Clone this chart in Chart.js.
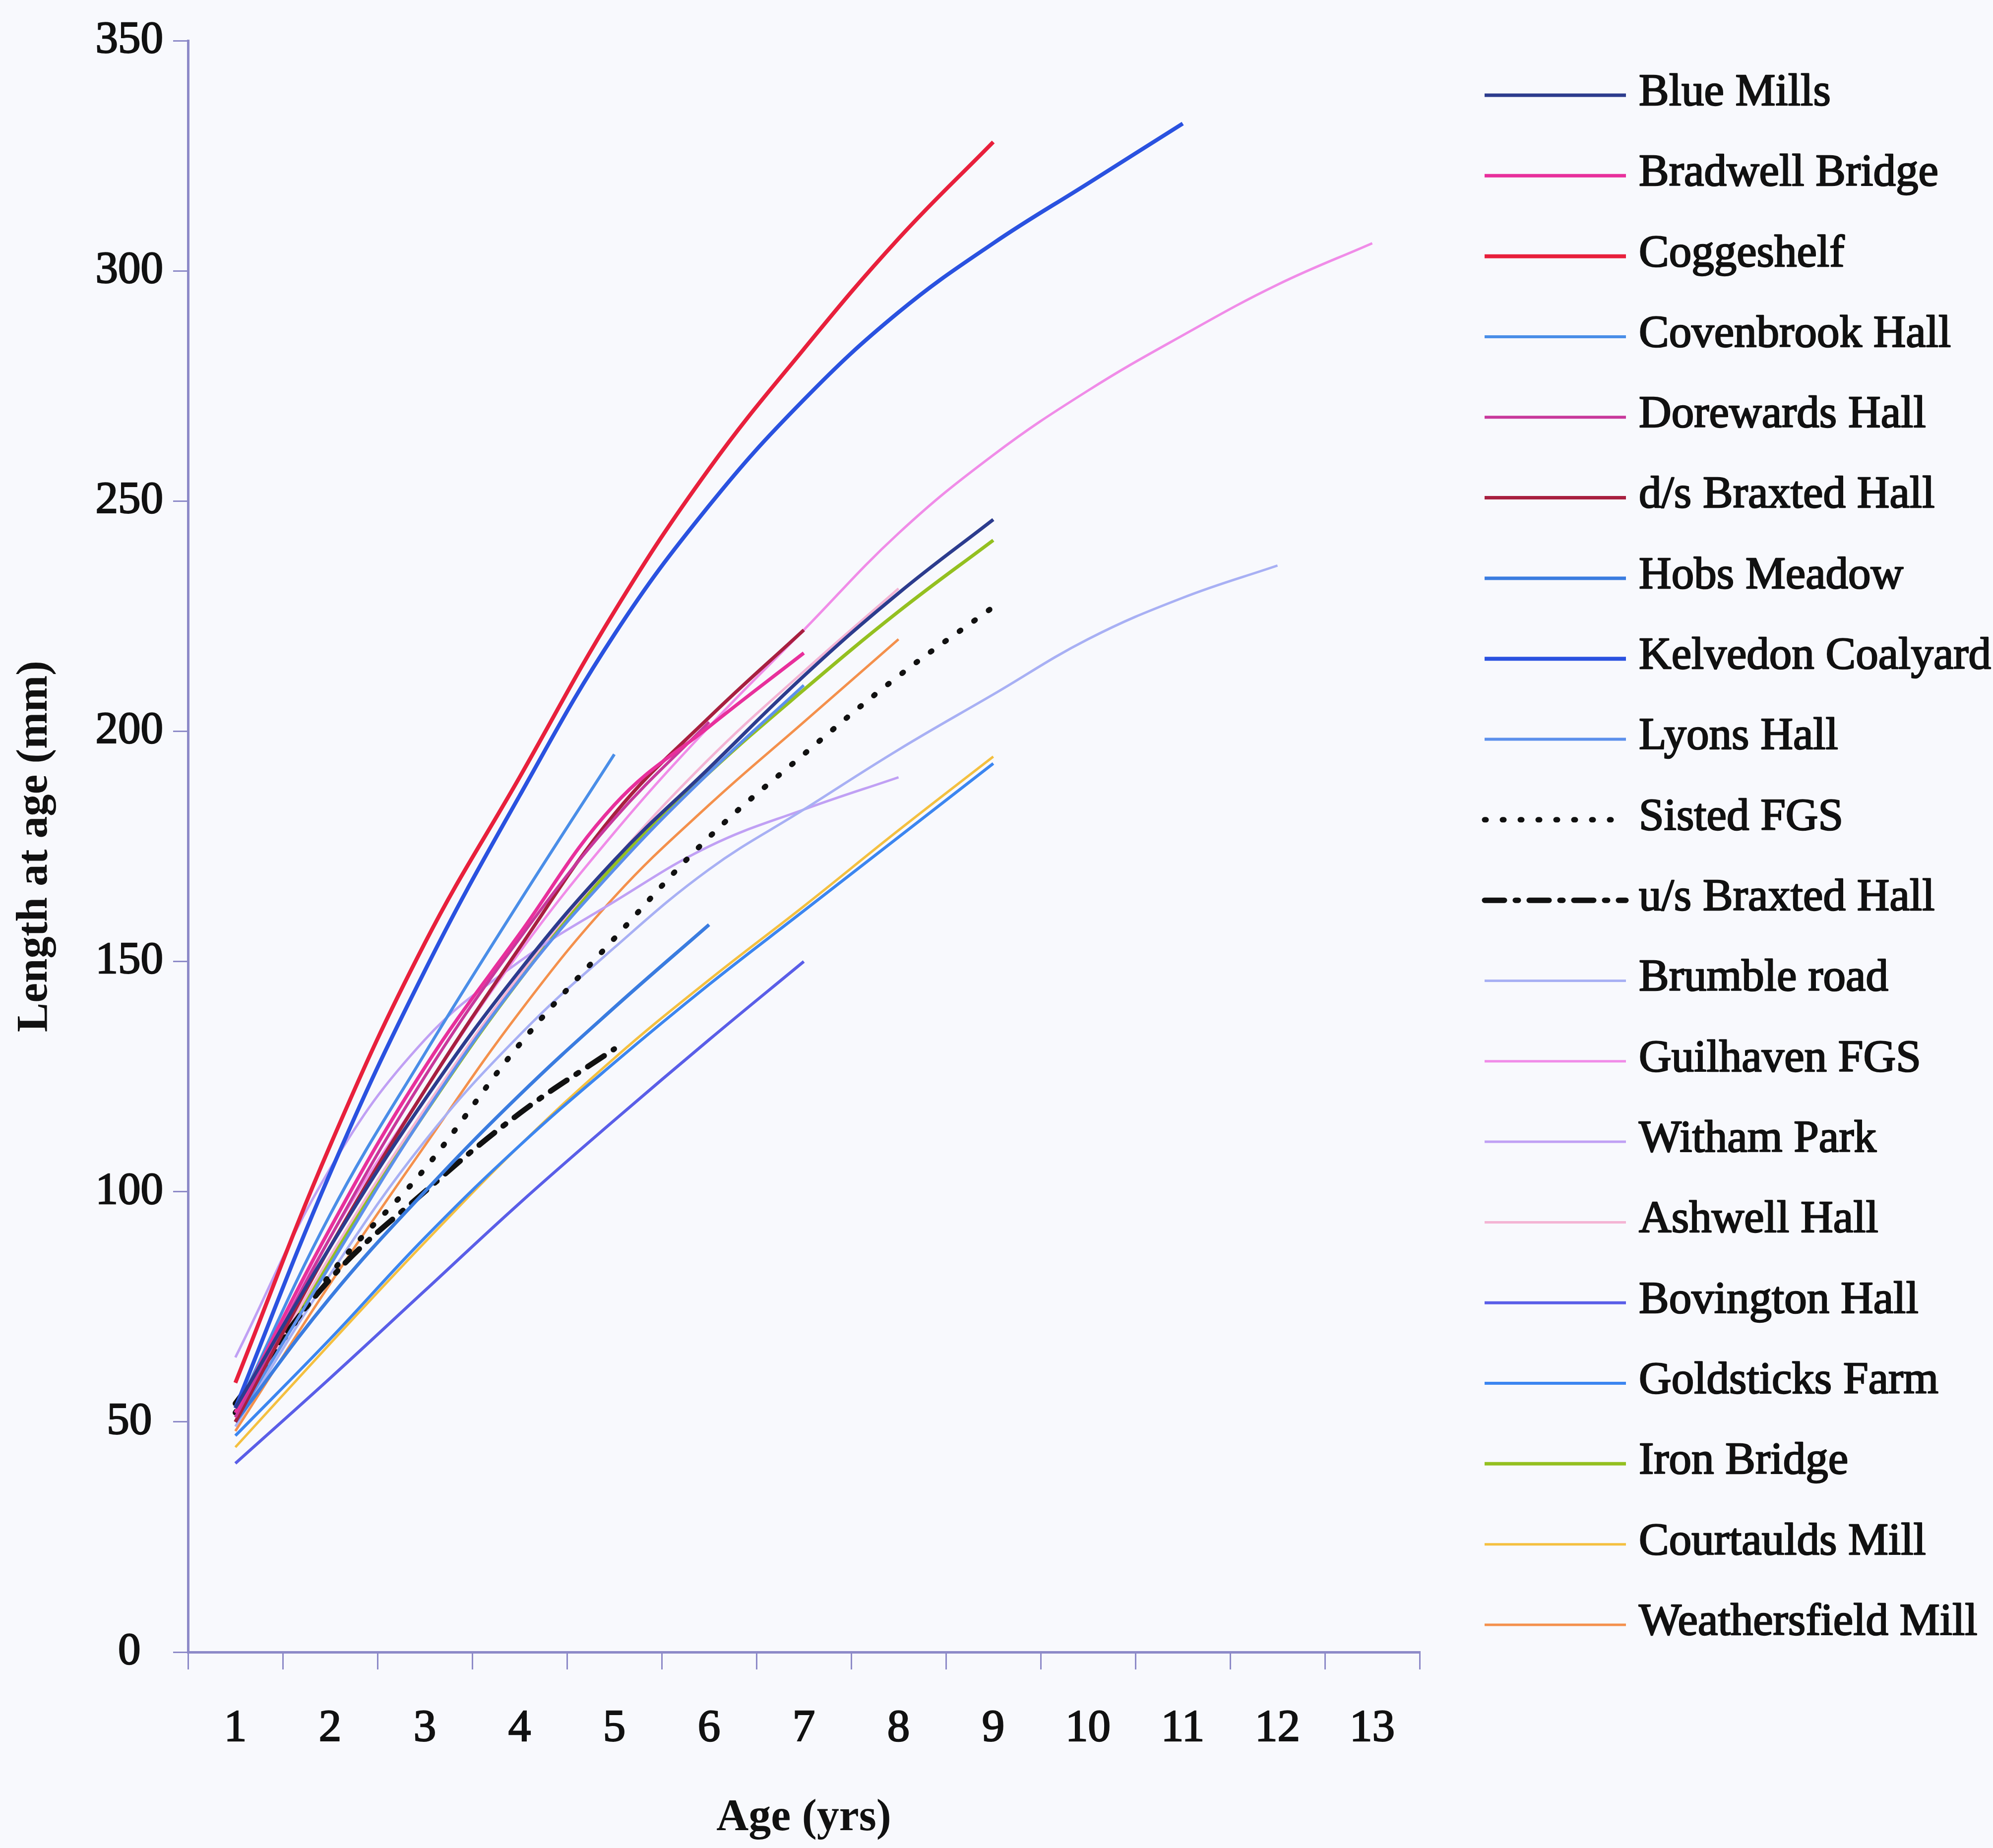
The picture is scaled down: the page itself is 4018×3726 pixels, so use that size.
<!DOCTYPE html>
<html>
<head>
<meta charset="utf-8">
<title>Length at age by site</title>
<script src="https://cdn.jsdelivr.net/npm/chart.js@4.4.1/dist/chart.umd.min.js"></script>
<style>
  html, body { margin: 0; padding: 0; background: #f8f9fd; }
  canvas { display: block; }
</style>
</head>
<body>
<canvas id="growthChart" width="4018" height="3726"></canvas>
<script>
// ages on the x axis and the y tick values
const ages = ['1', '2', '3', '4', '5', '6', '7', '8', '9', '10', '11', '12', '13'];
const lengthTicks = [0, 50, 100, 150, 200, 250, 300, 350];

// back-calculated length at age (mm), one array per site, starting at age 1
const blueMills         = [53, 88, 120, 148, 172, 192, 212, 230, 246];
const bradwellBridge    = [52, 92, 127, 156, 184, 201, 217];
const coggeshelf        = [58.5, 110, 154, 190, 226, 257, 283, 307, 328];
const covenbrookHall    = [52, 95, 130, 163, 195];
const dorewardsHall     = [51, 90, 125, 155, 181, 202];
const dsBraxtedHall     = [50, 88, 122, 153, 182, 203, 222];
const hobsMeadow        = [50, 77, 100, 121, 140, 158];
const kelvedonCoalyard  = [53, 104, 148, 186, 221, 249, 272, 291, 306, 319, 332];
const lyonsHall         = [50, 84, 117, 146, 170, 191, 210];
const sistedFGS         = [52, 82, 105, 132, 155, 177, 195, 212, 227];
const usBraxtedHall     = [54, 81, 100, 117, 131];
const brumbleRoad       = [49, 82, 111, 134, 153, 170, 183, 196, 208, 220, 229, 236];
const guilhavenFGS      = [52, 90, 122, 152, 178, 201, 222, 243, 260, 274, 286, 297, 306];
const withamPark        = [64, 105, 133, 150, 163, 175, 183, 190];
const ashwellHall       = [50, 86, 118, 147, 172, 194, 213, 231];
const bovingtonHall     = [41, 59.5, 78.5, 97.5, 115.5, 133, 150];
const goldsticksFarm    = [47, 68, 90, 110, 128, 145, 161, 177, 193];
const ironBridge        = [50, 85, 117, 146, 171, 191, 209, 226, 241.5];
const courtauldsMill    = [44.5, 67, 89, 110, 129, 146, 162, 178.5, 194.5];
const weathersfieldMill = [48, 80, 110, 139, 164, 184, 202, 220];

const siteNames = [
  'Blue Mills', 'Bradwell Bridge', 'Coggeshelf', 'Covenbrook Hall', 'Dorewards Hall',
  'd/s Braxted Hall', 'Hobs Meadow', 'Kelvedon Coalyard', 'Lyons Hall', 'Sisted FGS',
  'u/s Braxted Hall', 'Brumble road', 'Guilhaven FGS', 'Witham Park', 'Ashwell Hall',
  'Bovington Hall', 'Goldsticks Farm', 'Iron Bridge', 'Courtaulds Mill', 'Weathersfield Mill'
];
const siteValues = [
  blueMills, bradwellBridge, coggeshelf, covenbrookHall, dorewardsHall,
  dsBraxtedHall, hobsMeadow, kelvedonCoalyard, lyonsHall, sistedFGS,
  usBraxtedHall, brumbleRoad, guilhavenFGS, withamPark, ashwellHall,
  bovingtonHall, goldsticksFarm, ironBridge, courtauldsMill, weathersfieldMill
];

// line styling per site
const siteColors = [
  '#2c3c8e', '#e8309c', '#e8203c', '#4a8ee8', '#c8389c',
  '#a82040', '#3a7ce0', '#2a52e0', '#5c90ec', '#111111',
  '#111111', '#a8b0f4', '#f08ce8', '#c0a0f4', '#f4b4d4',
  '#5a5ee8', '#3c86f0', '#94c020', '#f4c040', '#f4904c'
];
const siteWidths = [7, 7, 8, 6, 6, 7, 7, 8, 6, 11, 11, 5, 5, 5, 5, 6, 6, 7, 5, 5];
const siteDashes = { 'Sisted FGS': [3, 33], 'u/s Braxted Hall': [40, 22, 6, 22] };

const FONT = "'Liberation Serif', 'Times New Roman', serif";
const AXIS_COLOR = '#8d8ac8';
const INK = '#111111';

Chart.defaults.font.family = FONT;
Chart.defaults.color = INK;

const datasets = siteNames.map((name, i) => ({
  label: name,
  data: siteValues[i],
  borderColor: siteColors[i],
  backgroundColor: siteColors[i],
  borderWidth: siteWidths[i],
  borderDash: siteDashes[name] || [],
  borderCapStyle: siteDashes[name] ? 'round' : 'butt',
  pointRadius: 0,
  tension: 0.4,
  fill: false
}));

// legend column at the right, one row per site
const sideLegend = {
  id: 'sideLegend',
  afterDraw(chart) {
    const { ctx } = chart;
    const sets = chart.data.datasets;
    const x0 = 2993, x1 = 3278, textX = 3304;
    const firstY = 192, lastY = 3276;
    const step = (lastY - firstY) / (sets.length - 1);
    ctx.save();
    ctx.font = '91px ' + FONT;
    ctx.textBaseline = 'middle';
    sets.forEach((ds, i) => {
      const y = firstY + i * step;
      ctx.beginPath();
      ctx.setLineDash(ds.borderDash);
      ctx.lineCap = ds.borderCapStyle;
      ctx.lineWidth = ds.borderWidth;
      ctx.strokeStyle = ds.borderColor;
      ctx.moveTo(x0, y);
      ctx.lineTo(x1, y);
      ctx.stroke();
      ctx.setLineDash([]);
      ctx.lineWidth = 2.5;
      ctx.lineJoin = 'round';
      ctx.strokeStyle = INK;
      ctx.fillStyle = INK;
      ctx.strokeText(ds.label, textX, y - 4);
      ctx.fillText(ds.label, textX, y - 4);
    });
    ctx.restore();
  }
};

new Chart(document.getElementById('growthChart'), {
  type: 'line',
  data: { labels: ages, datasets },
  plugins: [sideLegend],
  options: {
    responsive: false,
    devicePixelRatio: 1,
    animation: false,
    layout: { padding: { top: 82, right: 1156, bottom: 0, left: 0 } },
    plugins: { legend: { display: false }, tooltip: { enabled: false } },
    scales: {
      x: {
        type: 'category',
        offset: true,
        afterFit: scale => { scale.height = 395; },
        grid: { offset: true, drawOnChartArea: false, drawTicks: true, tickLength: 35, color: AXIS_COLOR, lineWidth: 3 },
        border: { color: AXIS_COLOR, width: 5 },
        ticks: { font: { size: 91 }, padding: 65, maxRotation: 0, autoSkip: false, textStrokeColor: INK, textStrokeWidth: 2.5 },
        title: { display: true, text: 'Age (yrs)', font: { size: 90, weight: 'bold' }, padding: { top: 0, bottom: 5 } }
      },
      y: {
        min: lengthTicks[0],
        max: lengthTicks[lengthTicks.length - 1],
        afterFit: scale => { scale.width = 379; },
        grid: { drawOnChartArea: false, drawTicks: true, tickLength: 30, color: AXIS_COLOR, lineWidth: 3 },
        border: { color: AXIS_COLOR, width: 5 },
        ticks: { stepSize: lengthTicks[1] - lengthTicks[0], font: { size: 91 }, padding: 20, crossAlign: 'center', textStrokeColor: INK, textStrokeWidth: 2.5 },
        title: { display: true, text: 'Length at age (mm)', font: { size: 89, weight: 'bold' }, padding: { top: 18, bottom: 0 } }
      }
    }
  }
});
</script>
</body>
</html>
